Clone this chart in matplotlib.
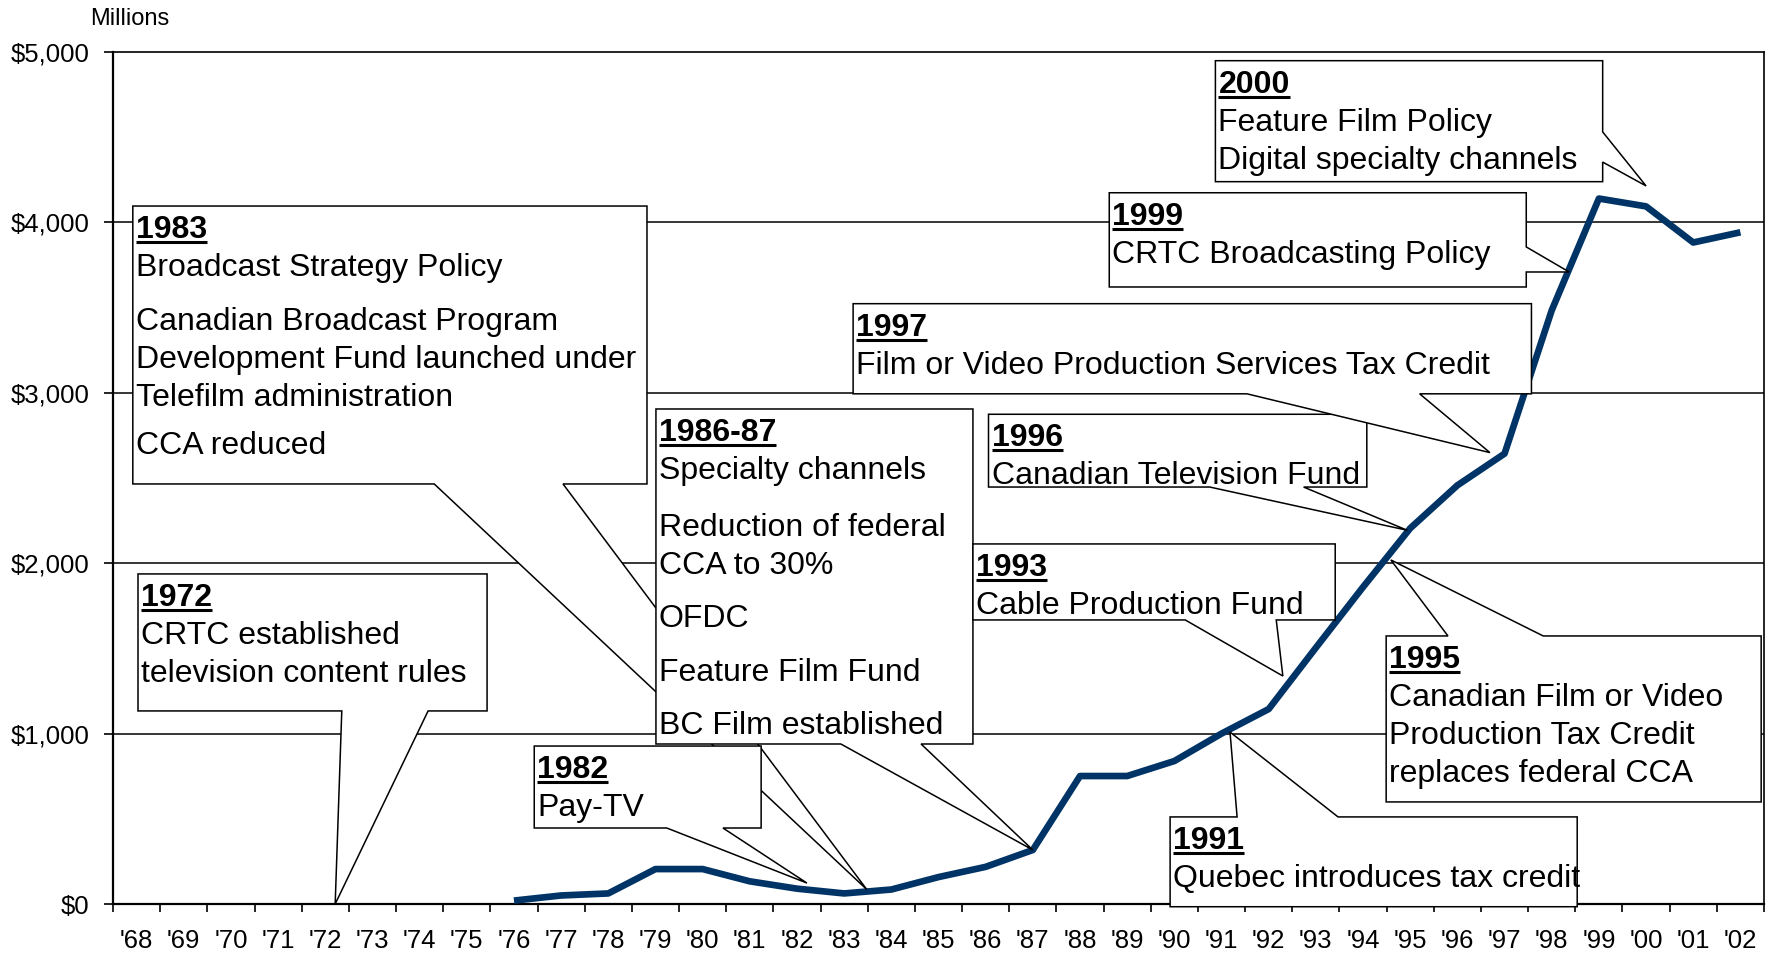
import numpy as np
import matplotlib
matplotlib.use("Agg")
from matplotlib import pyplot as plt
from matplotlib.patches import Polygon
from matplotlib.lines import Line2D
from matplotlib.transforms import offset_copy, IdentityTransform

plt.rcParams['font.family'] = ['Liberation Sans', 'DejaVu Sans']

# x categories '68 .. '02, series starts at '76
year_labels = ["'68", "'69", "'70", "'71", "'72", "'73", "'74", "'75", "'76", "'77",
               "'78", "'79", "'80", "'81", "'82", "'83", "'84", "'85", "'86", "'87",
               "'88", "'89", "'90", "'91", "'92", "'93", "'94", "'95", "'96", "'97",
               "'98", "'99", "'00", "'01", "'02"]
first_year = "'76"
spending = [20, 50, 62, 205, 205, 133, 90, 62, 85, 158, 218, 317, 751, 751, 839,
            1000, 1144, 1504, 1860, 2205, 2457, 2643, 3484, 4140, 4094, 3882, 3942]
y_ticks = [0, 1000, 2000, 3000, 4000, 5000]
y_tick_labels = ["$0", "$1,000", "$2,000", "$3,000", "$4,000", "$5,000"]

# callouts: box (x0, y0, x1, y1) in data units, side of the pointer, its base, tip
callouts = [
    dict(title="1972", box=(0.53, 1133, 7.93, 1937), side="bottom", base=(4.85, 6.68), tip=(4.71, 0),
         paras=[["CRTC established", "television content rules"]]),
    dict(title="1983", box=(0.42, 2465, 11.32, 4096), side="bottom", base=(6.81, 9.54), tip=(15.98, 85),
         paras=[["Broadcast Strategy Policy"],
                ["Canadian Broadcast Program", "Development Fund launched under", "Telefilm administration"],
                ["CCA reduced"]],
         gaps=[54, 48]),
    dict(title="1986-87", box=(11.51, 939, 18.23, 2905), side="bottom", base=(15.43, 17.13), tip=(19.5, 317),
         paras=[["Specialty channels"], ["Reduction of federal", "CCA to 30%"], ["OFDC"],
                ["Feature Film Fund"], ["BC Film established"]],
         gaps=[57, 53, 54, 53]),
    dict(title="1982", box=(8.93, 446, 13.74, 927), side="bottom", base=(11.74, 12.93), tip=(14.71, 123),
         paras=[["Pay-TV"]]),
    dict(title="1991", box=(22.41, -16, 31.04, 511), side="top", base=(23.83, 25.97), tip=(23.68, 1009),
         paras=[["Quebec introduces tax credit"]]),
    dict(title="1993", box=(18.23, 1667, 25.91, 2113), side="bottom", base=(22.73, 24.66), tip=(24.80, 1338),
         paras=[["Cable Production Fund"]]),
    dict(title="1995", box=(26.99, 599, 34.94, 1573), side="top", base=(28.30, 30.32), tip=(27.09, 2019),
         paras=[["Canadian Film or Video", "Production Tax Credit", "replaces federal CCA"]]),
    dict(title="1996", box=(18.56, 2447, 26.58, 2874), side="bottom", base=(23.25, 25.24), tip=(27.44, 2193),
         paras=[["Canadian Television Fund"]]),
    dict(title="1997", box=(15.69, 2994, 30.07, 3523), side="bottom", base=(24.04, 27.70), tip=(29.19, 2649),
         paras=[["Film or Video Production Services Tax Credit"]]),
    dict(title="1999", box=(21.12, 3621, 29.96, 4174), side="right", base=(3856, 3709), tip=(30.87, 3709),
         paras=[["CRTC Broadcasting Policy"]]),
    dict(title="2000", box=(23.37, 4239, 31.58, 4949), side="right", base=(4531, 4354), tip=(32.5, 4214),
         paras=[["Feature Film Policy", "Digital specialty channels"]]),
]

FS = 23

fig = plt.figure(figsize=(17.7, 9.55), dpi=100)
ax = fig.add_axes([113 / 1770, 51 / 955, 1651 / 1770, 852 / 955])

n = len(year_labels)
start = year_labels.index(first_year)
x = np.arange(start, start + len(spending)) + 0.5

for v in y_ticks[1:-1]:
    ax.axhline(v, color="black", lw=1.1, zorder=1)

ax.plot(x, spending, color="#003366", lw=4.8, solid_joinstyle="round",
        solid_capstyle="butt", zorder=3)

ax.set_xlim(0, n)
ax.set_ylim(0, 5000)
for s in ax.spines.values():
    s.set_linewidth(1.2)
ax.spines["left"].set_linewidth(1.6)
ax.spines["bottom"].set_linewidth(1.6)

ax.set_xticks(np.arange(n + 1))
ax.set_xticklabels([])
ax.set_xticks(np.arange(n) + 0.5, minor=True)
ax.set_xticklabels(year_labels, minor=True, fontsize=18.5)
ax.tick_params(axis="x", which="major", direction="out", length=6, width=1.2)
ax.tick_params(axis="x", which="minor", length=0, pad=18)
ax.set_yticks(y_ticks)
ax.set_yticklabels(y_tick_labels, fontsize=18.5)
ax.tick_params(axis="y", direction="out", length=6.5, width=1.2, pad=10.5)

fig.text(130 / 1770, 1 - 19 / 955, "Millions", ha="center", va="center", fontsize=17)


def callout(ax, c, z):
    x0, y0, x1, y1 = c["box"]
    b1, b2 = c["base"]
    tip = c["tip"]
    if c["side"] == "bottom":
        pts = [(x0, y1), (x1, y1), (x1, y0), (b2, y0), tip, (b1, y0), (x0, y0)]
    elif c["side"] == "top":
        pts = [(x0, y1), (b1, y1), tip, (b2, y1), (x1, y1), (x1, y0), (x0, y0)]
    else:
        pts = [(x0, y1), (x1, y1), (x1, b1), tip, (x1, b2), (x1, y0), (x0, y0)]
    ax.add_patch(Polygon(pts, closed=True, fc="white", ec="black", lw=1.1,
                         zorder=z, clip_on=False, joinstyle="miter"))
    dy = -32
    tr = offset_copy(ax.transData, fig=fig, x=3, y=dy, units="dots")
    title = ax.text(x0, y1, c["title"], transform=tr, fontsize=FS, fontweight="bold",
                    ha="left", va="baseline", zorder=z + 0.5, clip_on=False)
    gaps = c.get("gaps", [54] * len(c["paras"]))
    for p, para in enumerate(c["paras"]):
        for k, line in enumerate(para):
            dy -= gaps[p - 1] if (p > 0 and k == 0) else 38
            tr = offset_copy(ax.transData, fig=fig, x=3, y=dy, units="dots")
            ax.text(x0, y1, line, transform=tr, fontsize=FS, ha="left",
                    va="baseline", zorder=z + 0.5, clip_on=False)
    base_y = ax.transData.transform((x0, y1))[1] - 32
    return title, base_y, z


titles = []
for i, c in enumerate(callouts):
    titles.append(callout(ax, c, 5 + 2 * i))

fig.canvas.draw()
renderer = fig.canvas.get_renderer()
for t, base_y, z in titles:
    bb = t.get_window_extent(renderer)
    ax.add_artist(Line2D([bb.x0, bb.x1], [base_y - 4, base_y - 4], color="black",
                         lw=2.2, transform=IdentityTransform(), zorder=z + 0.6,
                         clip_on=False, solid_capstyle="butt"))

fig.savefig("out.png", dpi=100)
